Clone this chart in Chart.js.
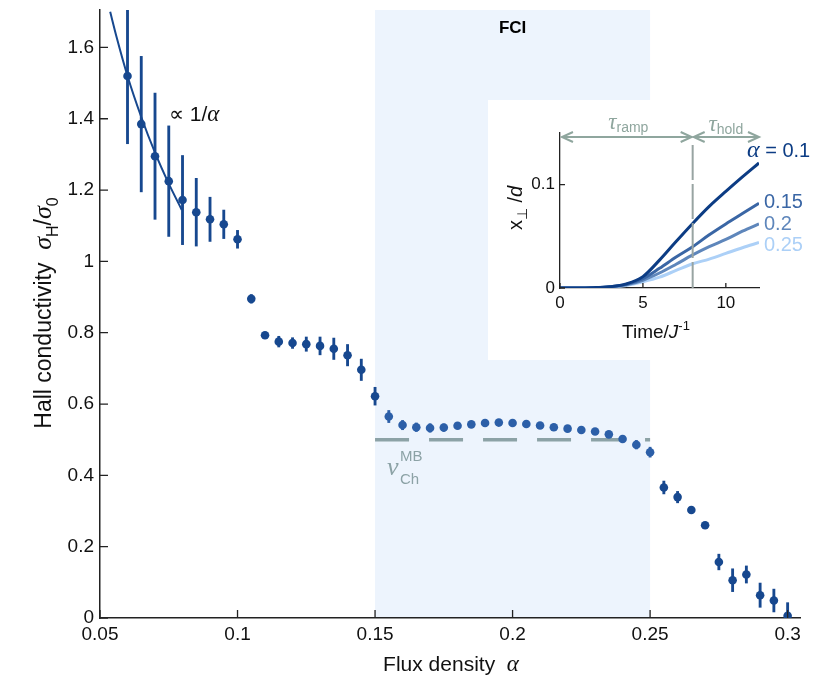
<!DOCTYPE html>
<html>
<head>
<meta charset="utf-8">
<script src="https://cdn.jsdelivr.net/npm/chart.js@4.4.1/dist/chart.umd.min.js"></script>
<style>
  html, body { margin: 0; padding: 0; background: #fff; }
  #wrap { position: relative; width: 830px; height: 684px; }
  #mainChart { position: absolute; left: 0; top: 0; }
  #insetChart { position: absolute; left: 488px; top: 100px; background: #fff; }
</style>
</head>
<body>
<div id="wrap">
  <canvas id="mainChart" width="830" height="684"></canvas>
  <canvas id="insetChart" width="342" height="260"></canvas>
</div>
<script>
// MAIN PANEL DATA
const alpha = [0.06, 0.065, 0.07, 0.075, 0.08, 0.085, 0.09, 0.095, 0.1, 0.105,
  0.11, 0.115, 0.12, 0.125, 0.13, 0.135, 0.14, 0.145, 0.15, 0.155,
  0.16, 0.165, 0.17, 0.175, 0.18, 0.185, 0.19, 0.195, 0.2, 0.205,
  0.21, 0.215, 0.22, 0.225, 0.23, 0.235, 0.24, 0.245, 0.25, 0.255,
  0.26, 0.265, 0.27, 0.275, 0.28, 0.285, 0.29, 0.295, 0.3];
const sigmaH = [1.52, 1.385, 1.295, 1.225, 1.172, 1.138, 1.118, 1.104, 1.062, 0.895,
  0.793, 0.775, 0.771, 0.768, 0.763, 0.755, 0.737, 0.696, 0.622, 0.565,
  0.541, 0.535, 0.533, 0.534, 0.539, 0.543, 0.547, 0.548, 0.547, 0.544,
  0.540, 0.535, 0.531, 0.527, 0.523, 0.515, 0.502, 0.486, 0.465, 0.366,
  0.339, 0.303, 0.260, 0.157, 0.106, 0.122, 0.064, 0.049, 0.006];
const sigmaErr = [0.19, 0.19, 0.177, 0.155, 0.125, 0.095, 0.062, 0.04, 0.025, 0.012,
  0.008, 0.015, 0.015, 0.02, 0.025, 0.03, 0.03, 0.03, 0.025, 0.017,
  0.013, 0.012, 0.012, 0.01, 0.008, 0.006, 0.006, 0.006, 0.006, 0.006,
  0.006, 0.006, 0.006, 0.006, 0.006, 0.008, 0.01, 0.012, 0.014, 0.018,
  0.016, 0.008, 0.008, 0.022, 0.032, 0.024, 0.034, 0.032, 0.037];
// 1/alpha guide line
const fitAlpha = [0.0537, 0.056, 0.06, 0.065, 0.07, 0.075, 0.0797];
const fitSigma = [1.70, 1.63, 1.52, 1.405, 1.305, 1.218, 1.145];
// many-body Chern number plateau
const plateauAlpha = [0.15, 0.25];
const plateauSigma = [0.5, 0.5];
const fciRange = [0.15, 0.25];
const xTicks = [0.05, 0.1, 0.15, 0.2, 0.25, 0.3];
const yTicks = [0, 0.2, 0.4, 0.6, 0.8, 1, 1.2, 1.4, 1.6];

// INSET DATA
const time = [0, 1, 2, 3, 4, 5, 6, 7, 8, 9, 10, 11, 12];
const xPerp010 = [0, 0, 0.0003, 0.0012, 0.004, 0.011, 0.027, 0.045, 0.0625, 0.079, 0.0935, 0.1075, 0.121];
const xPerp015 = [0, 0, 0.0002, 0.0011, 0.0035, 0.009, 0.019, 0.030, 0.040, 0.0515, 0.062, 0.072, 0.082];
const xPerp020 = [0, 0, 0.0002, 0.001, 0.003, 0.0075, 0.0145, 0.023, 0.032, 0.040, 0.047, 0.055, 0.062];
const xPerp025 = [0, 0, 0.0001, 0.0008, 0.0025, 0.006, 0.0105, 0.017, 0.0235, 0.028, 0.0335, 0.039, 0.044];
const insetLabels = ['0.1', '0.15', '0.2', '0.25'];
const insetXTicks = [0, 5, 10];
const insetYTicks = [0, 0.1];
const tRamp = 8;

const SANS = '"Liberation Sans", Arial, sans-serif';
const SERIF = '"Liberation Serif", serif';
const DARK = '#17488f';
const LIGHT = '#2c5fa8';
const GREY = '#8ca2a6';
const ARROW = '#8fa69e';
const insetColors = ['#0c3c84', '#3a66a5', '#5e86bb', '#acd0f7'];

// draws a row of text pieces (for sub/superscripts)
function drawParts(ctx, parts, x, y, align) {
  let w = 0;
  parts.forEach(p => { ctx.font = p.font; w += ctx.measureText(p.t).width; });
  let cx = align === 'center' ? x - w / 2 : (align === 'right' ? x - w : x);
  ctx.textAlign = 'left';
  ctx.textBaseline = 'alphabetic';
  parts.forEach(p => {
    ctx.font = p.font;
    ctx.fillStyle = p.c;
    ctx.fillText(p.t, cx, y + (p.dy || 0));
    cx += ctx.measureText(p.t).width;
  });
}

function inwardTicks(chart, len) {
  const ctx = chart.ctx, a = chart.chartArea;
  const xs = chart.scales.x, ys = chart.scales.y;
  ctx.save();
  ctx.strokeStyle = '#222';
  ctx.lineWidth = 1.3;
  ctx.beginPath();
  xs.ticks.forEach(t => {
    const px = xs.getPixelForValue(t.value);
    ctx.moveTo(px, a.bottom); ctx.lineTo(px, a.bottom - len);
  });
  ys.ticks.forEach(t => {
    const py = ys.getPixelForValue(t.value);
    ctx.moveTo(a.left, py); ctx.lineTo(a.left + len, py);
  });
  ctx.stroke();
  ctx.restore();
}

const mainPlugin = {
  id: 'mainDecor',
  beforeDraw(chart) {
    const ctx = chart.ctx, a = chart.chartArea, xs = chart.scales.x;
    const x0 = xs.getPixelForValue(fciRange[0]), x1 = xs.getPixelForValue(fciRange[1]);
    ctx.save();
    ctx.fillStyle = '#edf4fd';
    ctx.fillRect(x0, a.top, x1 - x0, a.bottom - a.top);
    ctx.restore();
  },
  afterDraw(chart) {
    const ctx = chart.ctx;
    inwardTicks(chart, 8);
    ctx.save();
    // FCI label
    ctx.font = 'bold 17px ' + SANS;
    ctx.fillStyle = '#000';
    ctx.textAlign = 'center';
    ctx.textBaseline = 'middle';
    ctx.fillText('FCI', chart.scales.x.getPixelForValue(0.2), 28);
    // 1/alpha
    drawParts(ctx, [
      { t: '\u221D 1/', font: '21px ' + SANS, c: '#111' },
      { t: '\u03B1', font: 'italic 23px ' + SERIF, c: '#111' }
    ], 169, 121, 'left');
    // nu_Ch^MB
    drawParts(ctx, [{ t: '\u03BD', font: 'italic 26px ' + SERIF, c: GREY }], 387, 475, 'left');
    drawParts(ctx, [{ t: 'MB', font: '15px ' + SANS, c: GREY }], 400, 461, 'left');
    drawParts(ctx, [{ t: 'Ch', font: '15px ' + SANS, c: GREY }], 400, 484, 'left');
    // x title
    drawParts(ctx, [
      { t: 'Flux density  ', font: '21px ' + SANS, c: '#111' },
      { t: '\u03B1', font: 'italic 23px ' + SERIF, c: '#111' }
    ], 451, 671, 'center');
    // y title
    ctx.translate(51, 313);
    ctx.rotate(-Math.PI / 2);
    drawParts(ctx, [
      { t: 'Hall conductivity  ', font: '23px ' + SANS, c: '#111' },
      { t: '\u03C3', font: 'italic 26px ' + SERIF, c: '#111' },
      { t: 'H', font: '16px ' + SANS, c: '#111', dy: 7 },
      { t: '/', font: '23px ' + SANS, c: '#111' },
      { t: '\u03C3', font: 'italic 26px ' + SERIF, c: '#111' },
      { t: '0', font: '16px ' + SANS, c: '#111', dy: 7 }
    ], 0, 0, 'center');
    ctx.restore();
  }
};

const inFci = alpha.map(a => a > fciRange[0] + 1e-9 && a <= fciRange[1] + 1e-9);
const pointColors = inFci.map(f => f ? LIGHT : DARK);

new Chart(document.getElementById('mainChart'), {
  type: 'scatter',
  data: {
    datasets: [
      {
        type: 'line',
        data: plateauAlpha.map((a, i) => ({ x: a, y: plateauSigma[i] })),
        borderColor: GREY,
        borderWidth: 3.5,
        borderDash: [34, 20],
        pointRadius: 0,
        order: 4
      },
      {
        type: 'line',
        data: fitAlpha.map((a, i) => ({ x: a, y: fitSigma[i] })),
        borderColor: DARK,
        borderWidth: 2,
        pointRadius: 0,
        tension: 0.4,
        cubicInterpolationMode: 'monotone',
        order: 3
      },
      {
        type: 'bar',
        data: alpha.map((a, i) => ({ x: a, y: [sigmaH[i] - sigmaErr[i], sigmaH[i] + sigmaErr[i]] })),
        backgroundColor: pointColors,
        borderWidth: 0,
        barThickness: 2.2,
        order: 2
      },
      {
        type: 'scatter',
        data: alpha.map((a, i) => ({ x: a, y: sigmaH[i] })),
        pointRadius: 4.3,
        pointBackgroundColor: pointColors,
        pointBorderWidth: 0,
        order: 1
      }
    ]
  },
  options: {
    responsive: false,
    animation: false,
    layout: { padding: { left: 0, top: 10, right: 30, bottom: 0 } },
    plugins: { legend: { display: false }, tooltip: { enabled: false } },
    scales: {
      x: {
        type: 'linear',
        min: 0.05,
        max: 0.3045,
        offset: false,
        afterBuildTicks: s => { s.ticks = xTicks.map(v => ({ value: v })); },
        afterFit: s => { s.height = 66; s.paddingLeft = 0; s.paddingRight = 0; },
        grid: { display: false, drawTicks: false },
        border: { display: true, color: '#222', width: 1.5 },
        ticks: { callback: v => String(v), color: '#111', font: { family: SANS, size: 19 }, padding: 5, maxRotation: 0 }
      },
      y: {
        type: 'linear',
        min: 0,
        max: 1.705,
        afterBuildTicks: s => { s.ticks = yTicks.map(v => ({ value: v })); },
        afterFit: s => { s.width = 100; s.paddingTop = 0; s.paddingBottom = 0; },
        grid: { display: false, drawTicks: false },
        border: { display: true, color: '#222', width: 1.5 },
        ticks: { callback: v => String(v), color: '#111', font: { family: SANS, size: 19 }, padding: 6 }
      }
    }
  },
  plugins: [mainPlugin]
});

// INSET
function arrow(ctx, x0, x1, y) {
  ctx.beginPath();
  ctx.moveTo(x0, y); ctx.lineTo(x1, y);
  ctx.moveTo(x0 + 11, y - 5); ctx.lineTo(x0, y); ctx.lineTo(x0 + 11, y + 5);
  ctx.moveTo(x1 - 11, y - 5); ctx.lineTo(x1, y); ctx.lineTo(x1 - 11, y + 5);
  ctx.stroke();
}

const insetPlugin = {
  id: 'insetDecor',
  afterDraw(chart) {
    const ctx = chart.ctx, a = chart.chartArea, xs = chart.scales.x;
    inwardTicks(chart, 5);
    ctx.save();
    const p0 = xs.getPixelForValue(0), p8 = xs.getPixelForValue(tRamp), p12 = xs.getPixelForValue(12);
    // ramp / hold arrows
    ctx.strokeStyle = ARROW;
    ctx.lineWidth = 2;
    arrow(ctx, p0 + 2, p8 - 1, a.top + 4);
    arrow(ctx, p8 + 1, p12, a.top + 4);
    // vertical separator
    ctx.strokeStyle = '#98a4a2';
    ctx.setLineDash([35, 4]);
    ctx.beginPath();
    ctx.moveTo(p8, a.top + 12); ctx.lineTo(p8, a.bottom);
    ctx.stroke();
    ctx.setLineDash([]);
    drawParts(ctx, [
      { t: '\u03C4', font: 'italic 23px ' + SERIF, c: ARROW },
      { t: 'ramp', font: '14px ' + SANS, c: ARROW, dy: 3 }
    ], (p0 + p8) / 2 + 2, a.top - 4, 'center');
    drawParts(ctx, [
      { t: '\u03C4', font: 'italic 23px ' + SERIF, c: ARROW },
      { t: 'hold', font: '14px ' + SANS, c: ARROW, dy: 3 }
    ], (p8 + p12) / 2, a.top - 2, 'center');
    // curve labels
    drawParts(ctx, [
      { t: '\u03B1', font: 'italic 24px ' + SERIF, c: insetColors[0] },
      { t: ' = ' + insetLabels[0], font: '20px ' + SANS, c: insetColors[0] }
    ], 259, 57, 'left');
    drawParts(ctx, [{ t: insetLabels[1], font: '20px ' + SANS, c: insetColors[1] }], 276, 108, 'left');
    drawParts(ctx, [{ t: insetLabels[2], font: '20px ' + SANS, c: insetColors[2] }], 276, 130, 'left');
    drawParts(ctx, [{ t: insetLabels[3], font: '20px ' + SANS, c: insetColors[3] }], 276, 151, 'left');
    // axis titles
    drawParts(ctx, [
      { t: 'Time/', font: '19px ' + SANS, c: '#111' },
      { t: 'J', font: 'italic 19px ' + SANS, c: '#111' },
      { t: '-1', font: '13px ' + SANS, c: '#111', dy: -8 }
    ], 168, 238, 'center');
    ctx.translate(34, 108);
    ctx.rotate(-Math.PI / 2);
    drawParts(ctx, [
      { t: 'x', font: '20px ' + SANS, c: '#111' },
      { t: '\u22A5', font: '14px ' + SANS, c: '#111', dy: 5 },
      { t: ' /', font: '20px ' + SANS, c: '#111' },
      { t: 'd', font: 'italic 20px ' + SANS, c: '#111' }
    ], 0, 0, 'center');
    ctx.restore();
  }
};

const insetSeries = [xPerp010, xPerp015, xPerp020, xPerp025];

new Chart(document.getElementById('insetChart'), {
  type: 'line',
  data: {
    datasets: insetSeries.map((s, k) => ({
      data: time.map((t, i) => ({ x: t, y: s[i] })),
      borderColor: insetColors[k],
      borderWidth: 3,
      pointRadius: 0,
      tension: 0.4,
      cubicInterpolationMode: 'monotone',
      order: k
    }))
  },
  options: {
    responsive: false,
    animation: false,
    layout: { padding: { left: 0, top: 33, right: 71, bottom: 0 } },
    plugins: { legend: { display: false }, tooltip: { enabled: false } },
    scales: {
      x: {
        type: 'linear',
        min: 0,
        max: 12,
        afterBuildTicks: s => { s.ticks = insetXTicks.map(v => ({ value: v })); },
        afterFit: s => { s.height = 72; s.paddingLeft = 0; s.paddingRight = 0; },
        grid: { display: false, drawTicks: false },
        border: { display: true, color: '#222', width: 1.3 },
        ticks: { callback: v => String(v), color: '#111', font: { family: SANS, size: 17 }, padding: 5, maxRotation: 0 }
      },
      y: {
        type: 'linear',
        min: 0,
        max: 0.15,
        afterBuildTicks: s => { s.ticks = insetYTicks.map(v => ({ value: v })); },
        afterFit: s => { s.width = 72; s.paddingTop = 0; s.paddingBottom = 0; },
        grid: { display: false, drawTicks: false },
        border: { display: true, color: '#222', width: 1.3 },
        ticks: { callback: v => String(v), color: '#111', font: { family: SANS, size: 17 }, padding: 5 }
      }
    }
  },
  plugins: [insetPlugin]
});
</script>
</body>
</html>
